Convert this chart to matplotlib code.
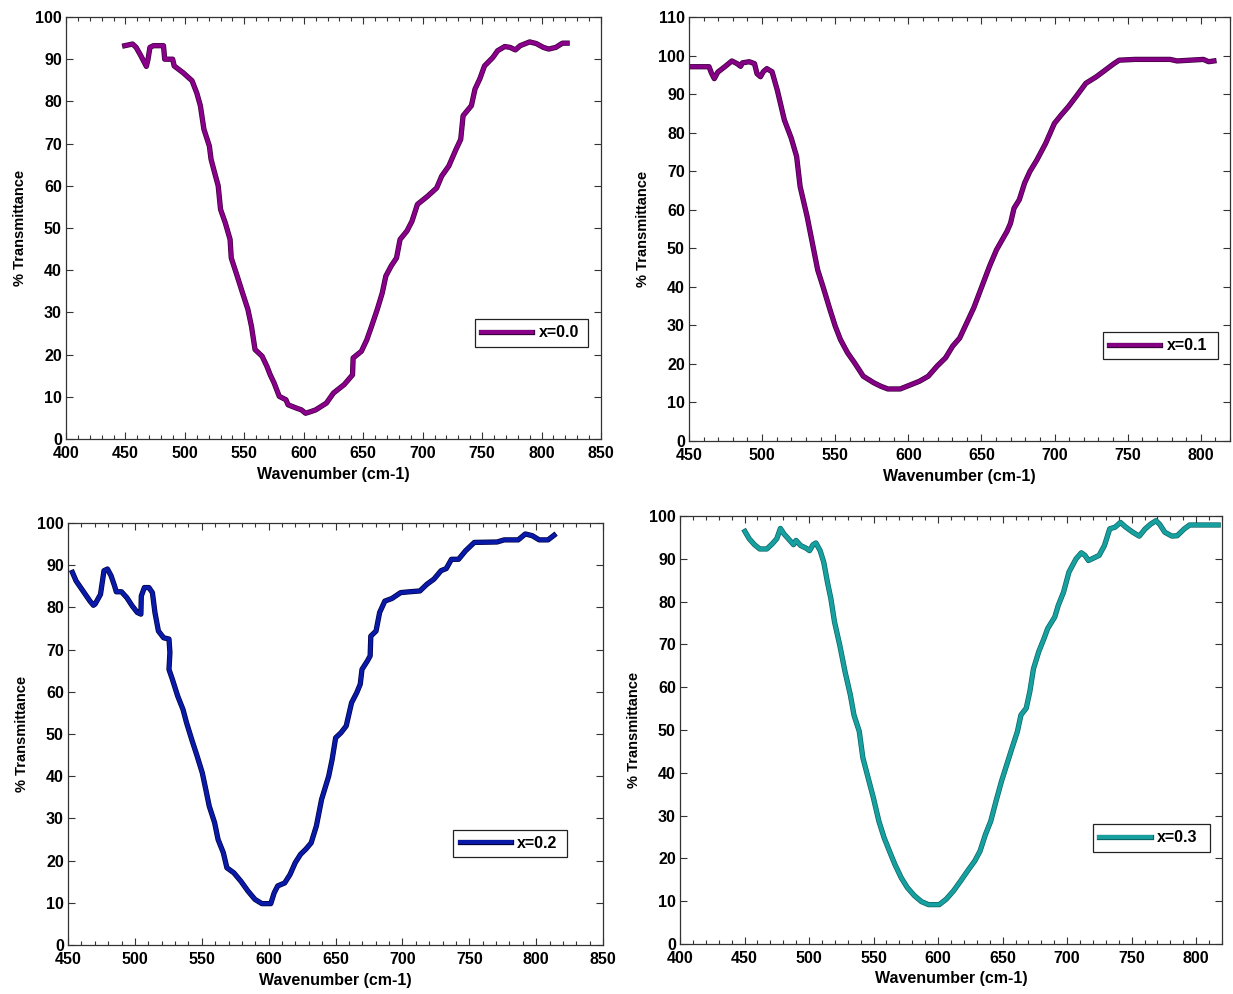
import matplotlib

matplotlib.use("Agg")

import matplotlib.pyplot as plt
import matplotlib.patheffects as pe
from matplotlib.ticker import MultipleLocator

plt.rcParams["font.family"] = ["Liberation Sans Narrow", "Liberation Sans", "DejaVu Sans"]
plt.rcParams["font.weight"] = "bold"

# x = 0.0
wn_00 = [449.4, 456, 459, 463, 467.6, 469, 470.6, 473.5, 482, 483, 489.7, 491, 498.5, 506,
         510, 513, 516, 520.6, 522, 525, 528, 530, 534, 538, 539, 544, 548.5, 553, 556, 559,
         565, 569, 571.8, 575, 579.4, 585, 586.8, 594, 598, 601.5, 606, 610, 619, 625, 634,
         641, 641.5, 648.5, 653, 657, 661.8, 666, 669, 673.5, 678, 681, 686.8, 691, 695.6,
         704, 711.8, 716, 722, 728, 732, 734, 741, 744, 748, 752, 759, 763, 769, 773.5, 778,
         782, 790, 795.6, 801.5, 806, 812, 817.6, 821.5]
tr_00 = [93.2, 93.6, 92.8, 90.8, 88.3, 90, 92.8, 93.2, 93.2, 90, 90, 88.4, 86.8, 84.9,
         82, 79, 73.4, 69.4, 66.3, 63.1, 60, 54.4, 51.2, 47.3, 42.9, 38.6, 34.6, 30.7, 26.7,
         21.2, 19.6, 17.2, 15.2, 13.3, 10.1, 9.3, 8.1, 7.3, 6.9, 6.1, 6.5, 6.9, 8.5, 10.9,
         12.9, 15.2, 19.2, 20.8, 23.5, 26.7, 30.7, 34.6, 38.6, 41, 42.9, 47.3, 49.3, 51.6,
         55.6, 57.5, 59.5, 62.3, 64.7, 68.6, 71, 76.6, 79, 82.9, 85.3, 88.4, 90.4, 92, 93,
         92.8, 92.2, 93.2, 94.1, 93.7, 92.8, 92.4, 92.8, 93.8, 93.8]

# x = 0.1
wn_01 = [451.7, 463.7, 465.3, 467.3, 469.7, 474.5, 479.3, 482.9, 485.3, 486.5, 491.2, 494.8,
         496.5, 498.9, 500.8, 503.2, 506.8, 510.4, 515.2, 520, 523.6, 526, 530.8, 534.4, 538,
         541.6, 546.4, 550, 553.6, 558.4, 563.2, 569.2, 576.4, 581.2, 586, 594.4, 600.4,
         607.6, 613.6, 619.6, 625.5, 630.3, 635.1, 639.9, 644.7, 649.5, 655.5, 660.3, 667.5,
         669.9, 672.3, 675.9, 679.5, 683.1, 687.9, 693.9, 699.9, 704.6, 709.4, 715.4, 721.4,
         728.6, 734.6, 740.6, 744.2, 755, 779, 783.8, 801.8, 805.4, 809]
tr_01 = [97.1, 97.1, 95.5, 94, 95.7, 97.1, 98.6, 97.9, 97.2, 98.1, 98.4, 97.9, 95.3, 94.5,
         95.8, 96.6, 95.8, 91, 83.3, 78.5, 73.8, 66, 58.2, 51.3, 44.4, 40.1, 34.1, 29.8, 26.3,
         22.9, 20.3, 16.8, 15.1, 14.2, 13.5, 13.5, 14.4, 15.5, 16.8, 19.4, 21.6, 24.6, 26.7,
         30.6, 34.5, 39.3, 45.3, 49.6, 54.4, 56.5, 60.4, 62.6, 66.9, 69.9, 72.9, 77.2, 82.4,
         84.6, 86.7, 89.7, 92.8, 94.5, 96.2, 97.9, 98.8, 99, 99, 98.6, 99, 98.4, 98.6]

# x = 0.2
wn_02 = [453.3, 456, 461.2, 466.4, 469, 470.3, 474.3, 476.9, 479.5, 482.2, 484.8, 486.1, 490,
         494, 497.9, 501.8, 504.5, 504.8, 507.1, 510.5, 513.1, 515, 517.6, 521.5, 525.5,
         526.2, 525.5, 528, 532, 536, 538.6, 542.5, 546.5, 550.4, 553, 555.6, 559.6, 562.2,
         566.1, 568.8, 574, 579.3, 584.5, 589.8, 595, 601.6, 604.2, 606.8, 612, 616, 619.9,
         623.9, 627.8, 631.8, 635.7, 639.6, 644.9, 647.5, 650.1, 654.1, 658, 662, 665.9,
         668.5, 669.8, 673.8, 675.9, 676.4, 680.3, 683, 686.9, 692.1, 698.7, 705.2, 713.1,
         718.4, 723.6, 728.9, 732.8, 736.7, 742, 747.2, 753.8, 770.8, 776.1, 786.6, 791.9,
         797.1, 802.3, 808.9, 813.4]
tr_02 = [88.3, 86.3, 83.9, 81.5, 80.5, 80.8, 83.1, 88.7, 89.1, 87.5, 85.1, 83.7, 83.7, 82.3,
         80.4, 78.8, 78.4, 82.7, 84.7, 84.7, 83.5, 78.8, 74.4, 72.8, 72.5, 69.3, 65.3, 63, 59,
         55.8, 52.7, 48.7, 44.8, 40.8, 36.9, 32.9, 29, 25, 21.9, 18.3, 17.1, 15.1, 12.8, 10.8,
         9.8, 9.8, 12.4, 14, 14.7, 16.7, 19.5, 21.5, 22.7, 24.2, 28.2, 34.5, 40, 44, 49.1,
         50.3, 51.9, 57.4, 59.8, 61.8, 65.3, 67.3, 68.5, 73.2, 74.4, 78.8, 81.5, 82.1, 83.5,
         83.7, 83.9, 85.5, 86.7, 88.7, 89.2, 91.4, 91.4, 93.4, 95.4, 95.5, 96, 96, 97.4, 97,
         96, 96, 97.1]

# x = 0.3
wn_03 = [450.3, 453.6, 457.7, 461.8, 467.3, 471.5, 475, 477.8, 480.6, 483.9, 488, 489.9,
         493.5, 497.6, 500.4, 503.1, 505.3, 508.6, 511.4, 514.2, 516.9, 519.7, 523.8, 527.9,
         532, 534.8, 538.9, 541.7, 545.8, 549.9, 554.1, 558.2, 562.3, 566.5, 571.4, 576.1,
         581.6, 587.1, 592.6, 600.9, 606.4, 611.9, 617.4, 622.9, 628.4, 632.5, 636.7, 640.8,
         644.9, 649.1, 653.2, 657.3, 661.5, 664.2, 668.3, 671.1, 673.9, 678, 682.1, 684.9,
         690.4, 693.1, 697.2, 701.4, 706.9, 711, 713.8, 716.5, 720.7, 724.8, 728.9, 733,
         737.2, 741.3, 745.4, 750.9, 755.9, 760.5, 764.7, 768.8, 771.6, 775.7, 781.2, 785.3,
         790.8, 794.9, 817]
tr_03 = [96.4, 94.7, 93.3, 92.3, 92.3, 93.5, 94.7, 97.1, 95.8, 94.7, 93.3, 94.3, 93.1, 92.5,
         91.9, 93.3, 93.7, 91.9, 89.2, 84.6, 80.7, 75.3, 69.8, 63.6, 58.2, 53.5, 49.7, 43.5,
         38.8, 34.1, 28.7, 24.8, 21.7, 18.6, 15.5, 13.2, 11.3, 9.9, 9.2, 9.2, 10.5, 12.4,
         14.7, 17.1, 19.4, 21.7, 25.6, 28.7, 33.4, 38, 41.9, 45.8, 49.7, 53.5, 55.1, 59, 64.3,
         68.3, 71.4, 73.7, 76.4, 79.1, 82.2, 86.9, 90, 91.4, 90.8, 89.6, 90.2, 90.8, 93.1, 97,
         97.4, 98.5, 97.4, 96.2, 95.3, 97, 98.1, 98.9, 98.1, 96.2, 95.3, 95.4, 97, 97.9, 97.9]

panels = [
    dict(wn=wn_00, tr=tr_00, label="x=0.0", color="#8a008a", edge="#3a003a",
         rect=[66, 17, 601, 439], xlim=(400, 850), ylim=(0, 100), leg=(0.764, 0.216, 0.212, 0.071)),
    dict(wn=wn_01, tr=tr_01, label="x=0.1", color="#850085", edge="#3a003a",
         rect=[689, 17, 1230, 441], xlim=(450, 820), ylim=(0, 110), leg=(0.765, 0.191, 0.213, 0.068)),
    dict(wn=wn_02, tr=tr_02, label="x=0.2", color="#0a1aa8", edge="#000040",
         rect=[68, 523, 603, 945], xlim=(450, 850), ylim=(0, 100), leg=(0.720, 0.206, 0.213, 0.069)),
    dict(wn=wn_03, tr=tr_03, label="x=0.3", color="#17a0a0", edge="#0b6464",
         rect=[680, 516, 1222, 944], xlim=(400, 820), ylim=(0, 100), leg=(0.762, 0.213, 0.216, 0.070)),
]

W, H = 1233, 994
fig = plt.figure(figsize=(W / 100, H / 100), dpi=100)

for p in panels:
    x0, y0, x1, y1 = p["rect"]
    ax = fig.add_axes([x0 / W, 1 - y1 / H, (x1 - x0) / W, (y1 - y0) / H])
    ax.plot(p["wn"], p["tr"], color=p["color"], linewidth=2.8, label=p["label"],
            path_effects=[pe.Stroke(linewidth=3.8, foreground=p["edge"]), pe.Normal()])
    ax.set_xlim(*p["xlim"])
    ax.set_ylim(*p["ylim"])
    ax.xaxis.set_major_locator(MultipleLocator(50))
    ax.xaxis.set_minor_locator(MultipleLocator(10))
    ax.yaxis.set_major_locator(MultipleLocator(10))
    ax.tick_params(which="both", direction="in", top=True, right=True, color="#333333")
    ax.tick_params(which="major", length=5, width=0.8, labelsize=11.5, pad=3)
    ax.tick_params(axis="x", which="major", pad=5)
    ax.tick_params(which="minor", length=3, width=0.8)
    for lbl in ax.get_xticklabels() + ax.get_yticklabels():
        lbl.set_fontweight("bold")
    for s in ax.spines.values():
        s.set_color("#333333")
        s.set_linewidth(0.9)
    ax.set_xlabel("Wavenumber (cm-1)", fontsize=11.5, fontweight="bold", labelpad=4)
    ax.set_ylabel("% Transmittance", fontsize=10.5, fontweight="bold", labelpad=6)
    leg = ax.legend(loc="center", bbox_to_anchor=p["leg"], mode="expand", fancybox=False,
                    edgecolor="#222222", framealpha=1, handlelength=3.2, handletextpad=0.4,
                    borderaxespad=0, prop={"weight": "bold", "size": 11.5})
    leg.get_frame().set_linewidth(0.9)

fig.savefig("out.png", dpi=100)
